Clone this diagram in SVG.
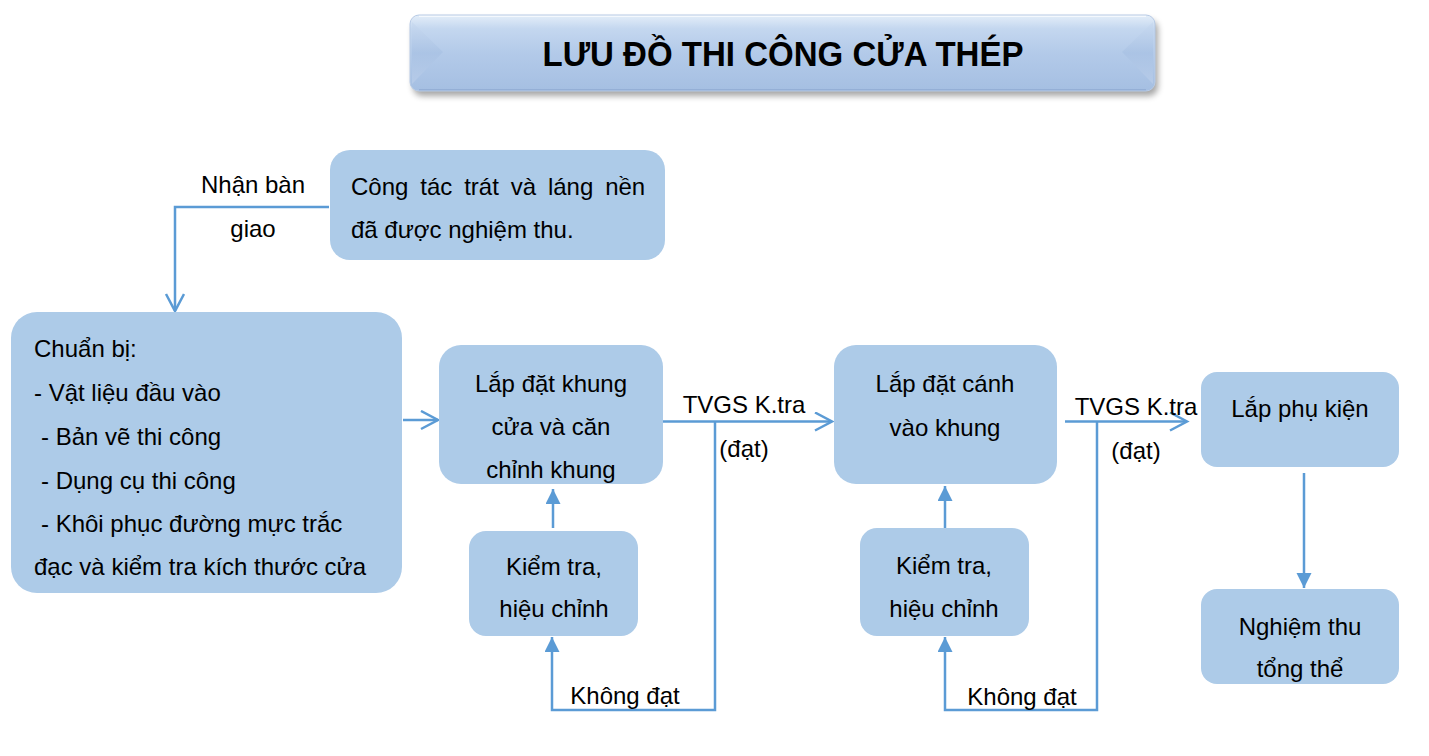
<svg xmlns="http://www.w3.org/2000/svg" width="1429" height="756" viewBox="0 0 1429 756">
<style>
.box{fill:#adcbe8;}
.t{font-family:"Liberation Sans",Arial,sans-serif;font-size:24px;fill:#000;}
.c{text-anchor:middle;}
.ln{fill:none;stroke:#5b9bd5;stroke-width:2.5;}
.open{marker-end:url(#openArrow);}
.fill{marker-end:url(#fillArrow);}
</style>
<defs>
<marker id="openArrow" markerUnits="userSpaceOnUse" markerWidth="24" markerHeight="24" refX="18" refY="10" orient="auto">
<path d="M1,1 L18,10 L1,19" fill="none" stroke="#5b9bd5" stroke-width="2.5"/>
</marker>
<marker id="fillArrow" markerUnits="userSpaceOnUse" markerWidth="18" markerHeight="18" refX="15" refY="7.5" orient="auto">
<path d="M0,0 L15,7.5 L0,15 z" fill="#5b9bd5"/>
</marker>
<linearGradient id="titleGrad" x1="0" y1="0" x2="0" y2="1">
<stop offset="0" stop-color="#e4eef9"/>
<stop offset="0.18" stop-color="#c4d7ef"/>
<stop offset="0.5" stop-color="#b3cae9"/>
<stop offset="1" stop-color="#a5bfe2"/>
</linearGradient>
<linearGradient id="bevL" x1="0" y1="0" x2="0" y2="1">
<stop offset="0" stop-color="#c9daf0"/>
<stop offset="0.5" stop-color="#a9c2e4"/>
<stop offset="1" stop-color="#b9cde9"/>
</linearGradient>
<filter id="sh" x="-5%" y="-20%" width="110%" height="160%">
<feGaussianBlur stdDeviation="3"/>
</filter>
</defs>

<g id="title">
<rect x="413" y="20" width="745" height="76" rx="9" fill="#000" opacity="0.35" filter="url(#sh)"/>
<rect x="410" y="15" width="745" height="76" rx="9" fill="url(#titleGrad)"/>
<polygon points="412,22 443,52 412,84" fill="url(#bevL)" opacity="0.8"/>
<polygon points="1153,22 1122,52 1153,84" fill="url(#bevL)" opacity="0.8"/>
<path d="M419,16 H1146" stroke="#f4f8fd" stroke-width="2" fill="none"/>
<path d="M419,90 H1146" stroke="#94afd6" stroke-width="2" fill="none"/>
<rect x="410" y="15" width="745" height="76" rx="9" fill="none" stroke="#b8cbe6" stroke-width="1"/>
<text x="783" y="66" text-anchor="middle" font-family="'Liberation Sans',Arial,sans-serif" font-weight="bold" font-size="35" textLength="481" lengthAdjust="spacingAndGlyphs" fill="#000">LƯU ĐỒ THI CÔNG CỬA THÉP</text>
</g>

<g id="connectors">
<polyline class="ln open" points="329,207 175,207 175,311"/>
<line class="ln open" x1="403" y1="420" x2="438" y2="420"/>
<line class="ln open" x1="663" y1="421.5" x2="832" y2="421.5"/>
<polyline class="ln fill" points="715,421.5 715,710 552,710 552,637"/>
<line class="ln fill" x1="553" y1="528" x2="553" y2="489"/>
<line class="ln open" x1="1065" y1="421.5" x2="1187" y2="421.5"/>
<polyline class="ln fill" points="1097,421.5 1097,710 945,710 945,637"/>
<line class="ln fill" x1="945" y1="528" x2="945" y2="486"/>
<line class="ln fill" x1="1304" y1="473" x2="1304" y2="588"/>
<text class="t c" x="253" y="193">Nhận bàn</text>
<text class="t c" x="253" y="237">giao</text>
<text class="t c" x="744" y="413">TVGS K.tra</text>
<text class="t c" x="744" y="457">(đạt)</text>
<text class="t c" x="625" y="704">Không đạt</text>
<text class="t c" x="1136" y="415">TVGS K.tra</text>
<text class="t c" x="1136" y="459">(đạt)</text>
<text class="t c" x="1022" y="705">Không đạt</text>
</g>

<g id="node-congtac">
<rect class="box" x="330" y="150" width="335" height="110" rx="20"/>
<text class="t" x="351" y="195" word-spacing="5.2">Công tác trát và láng nền</text>
<text class="t" x="351" y="238">đã được nghiệm thu.</text>
</g>

<g id="node-chuanbi">
<rect class="box" x="11" y="312" width="391" height="281" rx="26"/>
<text class="t" x="34" y="357">Chuẩn bị:</text>
<text class="t" x="34" y="401">- Vật liệu đầu vào</text>
<text class="t" x="41" y="445">- Bản vẽ thi công</text>
<text class="t" x="41" y="489">- Dụng cụ thi công</text>
<text class="t" x="41" y="532">- Khôi phục đường mực trắc</text>
<text class="t" x="34" y="575">đạc và kiểm tra kích thước cửa</text>
</g>

<g id="node-khung">
<rect class="box" x="439" y="345" width="224" height="139" rx="22"/>
<text class="t c" x="551" y="392">Lắp đặt khung</text>
<text class="t c" x="551" y="435">cửa và căn</text>
<text class="t c" x="551" y="478">chỉnh khung</text>
</g>

<g id="node-kiemtra1">
<rect class="box" x="469" y="531" width="169" height="105" rx="17"/>
<text class="t c" x="554" y="575">Kiểm tra,</text>
<text class="t c" x="554" y="617">hiệu chỉnh</text>
</g>

<g id="node-canh">
<rect class="box" x="834" y="345" width="223" height="139" rx="22"/>
<text class="t c" x="945" y="392">Lắp đặt cánh</text>
<text class="t c" x="945" y="436">vào khung</text>
</g>

<g id="node-kiemtra2">
<rect class="box" x="860" y="528" width="169" height="108" rx="17"/>
<text class="t c" x="944" y="574">Kiểm tra,</text>
<text class="t c" x="944" y="617">hiệu chỉnh</text>
</g>

<g id="node-phukien">
<rect class="box" x="1201" y="372" width="198" height="95" rx="16"/>
<text class="t c" x="1300" y="417">Lắp phụ kiện</text>
</g>

<g id="node-nghiemthu">
<rect class="box" x="1201" y="589" width="198" height="95" rx="16"/>
<text class="t c" x="1300" y="635">Nghiệm thu</text>
<text class="t c" x="1300" y="677">tổng thể</text>
</g>
</svg>
